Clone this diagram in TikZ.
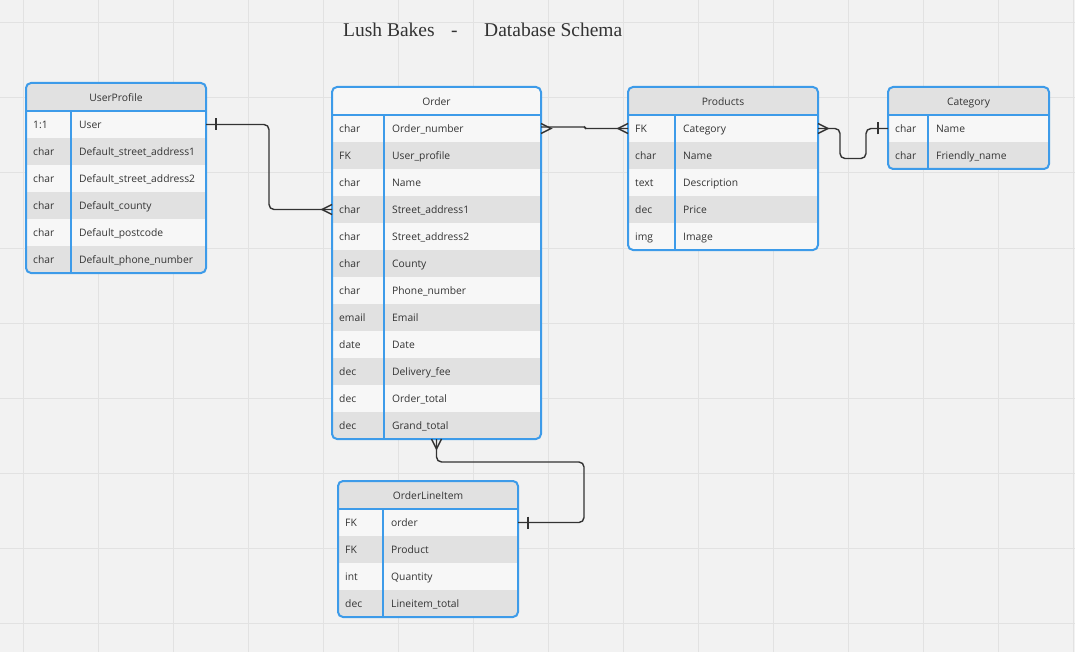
\documentclass[tikz,border=0pt]{standalone}
\usepackage{fontspec}
\setmainfont{Liberation Serif}
\newfontfamily\tblfont{Open Sans}
\usetikzlibrary{calc}
\definecolor{bg}{HTML}{F2F2F2}
\definecolor{gridc}{HTML}{E2E2E2}
\definecolor{tblblue}{HTML}{3D9BE9}
\definecolor{rowlight}{HTML}{F7F7F7}
\definecolor{rowdark}{HTML}{E1E1E1}
\definecolor{ink}{HTML}{333333}
\tikzset{
  conn/.style={draw=ink, line width=1.4pt, rounded corners=5pt},
  cell/.style={rectangle, inner sep=0pt, outer sep=0pt, anchor=north west},
  ttext/.style={font=\tblfont\fontsize{10.3}{12}\selectfont, text=ink, inner sep=0pt, anchor=base west},
  tborder/.style={draw=tblblue, line width=2pt},
  ttl/.style={font=\fontsize{19.5}{22}\selectfont, text=ink, anchor=base west, inner sep=0pt},
  crow/.pic={\draw[draw=ink,line width=1.4pt] (0,-5) -- (10,0) -- (0,5);},
  onebar/.pic={\draw[draw=ink,line width=1.4pt] (10,-6) -- (10,6);},
}
% name, x, y, width, divider offset, title, header fill, number of rows, rows
\newcommand\ertable[9]{%
  \begin{scope}
    \clip[rounded corners=5pt] (#2,#3) rectangle ({#2+#4},{#3+28+#8*27});
    \fill[#7] (#2,#3) rectangle ({#2+#4},{#3+28});
    \foreach \ty/\nm [count=\i] in {#9} {
      \ifodd\i \def\rf{rowlight}\else\def\rf{rowdark}\fi
      \node[cell, fill=\rf, minimum width=#4, minimum height=27] (#1-\i) at (#2,{#3+28+(\i-1)*27}) {};
      \node[ttext] at ($(#1-\i.west)+(7,4.3)$) {\ty};
      \node[ttext] at ($(#1-\i.west)+(#5+8,4.3)$) {\nm};
    }
  \end{scope}
  \node[ttext, anchor=base] (#1-head) at ({#2+#4/2},{#3+18.2}) {#6};
  \draw[tborder] (#2,{#3+28}) -- ({#2+#4},{#3+28});
  \draw[tborder] ({#2+#5},{#3+28}) -- ({#2+#5},{#3+28+#8*27});
  \draw[tborder, rounded corners=5pt] (#2,#3) rectangle ({#2+#4},{#3+28+#8*27});
}
\begin{document}
\begin{tikzpicture}[x=1pt,y=-1pt]
\useasboundingbox (0,0) rectangle (1075,652);
\fill[bg] (0,0) rectangle (1075,652);
\foreach \gx in {23,98,...,1073} \draw[gridc, line width=1pt] (\gx,0) -- (\gx,652);
\foreach \gy in {23,98,...,623} \draw[gridc, line width=1pt] (0,\gy) -- (1075,\gy);

\node[ttl] (t1) at (343,37) {Lush Bakes};
\node[ttl] (t2) at (451,37) {-};
\node[ttl] (t3) at (484,37) {Database Schema};

\ertable{up}{26}{83}{180}{45}{UserProfile}{rowdark}{6}{1:1/User, char/Default\_street\_address1, char/Default\_street\_address2, char/Default\_county, char/Default\_postcode, char/Default\_phone\_number}
\ertable{order}{332}{87}{209}{52}{Order}{rowlight}{12}{char/Order\_number, FK/User\_profile, char/Name, char/Street\_address1, char/Street\_address2, char/County, char/Phone\_number, email/Email, date/Date, dec/Delivery\_fee, dec/Order\_total, dec/Grand\_total}
\ertable{products}{628}{87}{190}{47}{Products}{rowdark}{5}{FK/Category, char/Name, text/Description, dec/Price, img/Image}
\ertable{category}{888}{87}{161}{40}{Category}{rowdark}{2}{char/Name, char/Friendly\_name}
\ertable{oli}{338}{481}{180}{45}{OrderLineItem}{rowdark}{4}{FK/order, FK/Product, int/Quantity, dec/Lineitem\_total}

% UserProfile -> Order
\draw[conn] (up-1.east) -- ++(63,0) |- (order-4.west);
\path (up-1.east) pic {onebar};
\path (order-4.west) pic[rotate=180] {crow};
% Order -> Products
\draw[conn, rounded corners=1pt] ($(order-1.east)+(0,-1.5)$) -- ++(44,0) -- ($(products-1.west)+(-43,0)$) -- (products-1.west);
\path (order-1.east) pic {crow};
\path (products-1.west) pic[rotate=180] {crow};
% Products -> Category
\draw[conn] (products-1.east) -- ++(22,0) -- ++(0,30) -- ++(26,0) |- (category-1.west);
\path (products-1.east) pic {crow};
\path (category-1.west) pic[rotate=180] {onebar};
% Order -> OrderLineItem
\draw[conn] (order-12.south) -- ++(0,23) -| ($(oli-1.east)+(66,0)$) -- (oli-1.east);
\path (order-12.south) pic[rotate=-90] {crow};
\path (oli-1.east) pic {onebar};
\end{tikzpicture}
\end{document}
